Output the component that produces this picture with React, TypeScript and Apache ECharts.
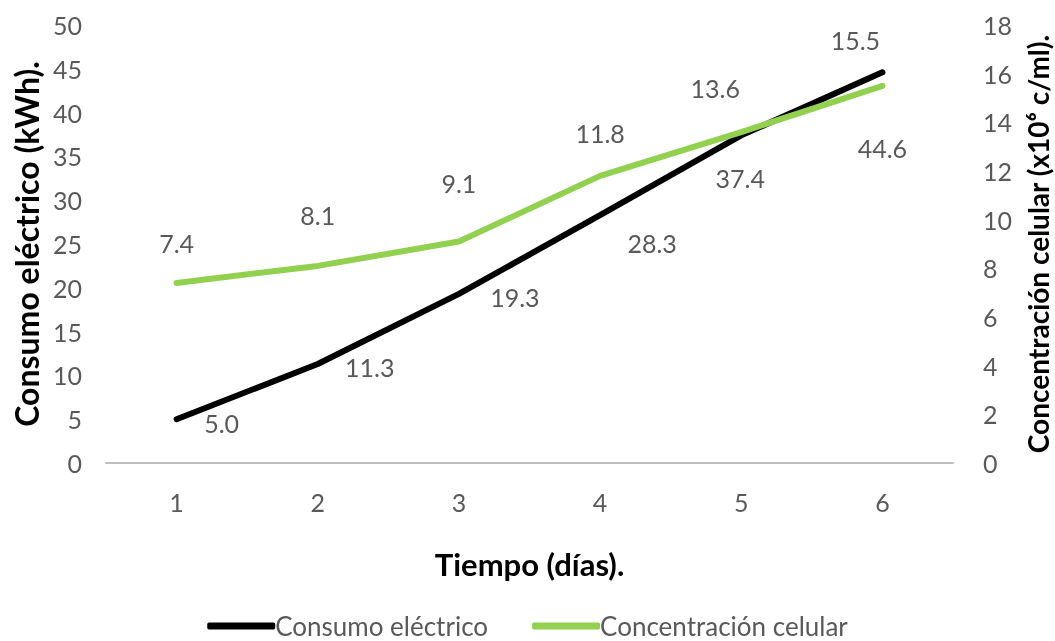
import React, { useEffect, useRef } from "react";
import * as echarts from "echarts";

// Days of measurement
const days = ["1", "2", "3", "4", "5", "6"];
// Electricity consumption (kWh)
const consumo = [5.0, 11.3, 19.3, 28.3, 37.4, 44.6];
// Cell concentration (x10^6 c/ml)
const concentracion = [7.4, 8.1, 9.1, 11.8, 13.6, 15.5];

// Manual label placement (pixel offsets from each point)
const consumoLabelOffsets = [[45, 4], [52, 3], [56, 3], [52, 28], [-1, 43], [0, 76]];
const concentracionLabelOffsets = [[0, -40], [0, -51], [0, -59], [0, -43], [-26, -44], [-27, -46]];

const FONT = "Lato, 'Open Sans', sans-serif";
const GREY = "#595959";

export default function App() {
  const ref = useRef<HTMLDivElement>(null);

  useEffect(() => {
    if (!ref.current) return;
    const chart = echarts.init(ref.current, undefined, { renderer: "svg" });

    const labelStyle = { fontFamily: FONT, fontSize: 25, color: GREY };
    const titleStyle = { fontFamily: FONT, fontWeight: "bold", color: "#000" };

    chart.setOption({
      animation: false,
      textStyle: { fontFamily: FONT },
      grid: {
        left: 106,
        right: 102,
        top: 25,
        bottom: 178,
        containLabel: false,
        outerBoundsMode: "none",
      },
      legend: {
        top: 608,
        left: "center",
        itemGap: 44,
        itemWidth: 68,
        itemHeight: 7,
        icon: "roundRect",
        textStyle: { fontFamily: FONT, fontSize: 26, lineHeight: 26, color: GREY, padding: [0, 0, 0, -5] },
        data: ["Consumo eléctrico", "Concentración celular"],
      },
      xAxis: {
        type: "category",
        data: days,
        boundaryGap: true,
        axisLine: { lineStyle: { color: "#bfbfbf", width: 2 } },
        axisTick: { show: false },
        axisLabel: { margin: 26, fontFamily: FONT, fontSize: 25, color: GREY },
        name: "Tiempo (días).",
        nameLocation: "middle",
        nameGap: 85,
        nameTextStyle: { ...titleStyle, fontSize: 31 },
      },
      yAxis: [
        {
          type: "value",
          min: 0,
          max: 50,
          interval: 5,
          splitLine: { show: false },
          axisLine: { show: false },
          axisTick: { show: false },
          axisLabel: { margin: 24, fontFamily: FONT, fontSize: 25, color: GREY },
          name: "Consumo eléctrico (kWh).",
          nameLocation: "middle",
          nameRotate: 90,
          nameGap: 64,
          nameTextStyle: { ...titleStyle, fontSize: 32 },
        },
        {
          type: "value",
          min: 0,
          max: 18,
          interval: 2,
          position: "right",
          splitLine: { show: false },
          axisLine: { show: false },
          axisTick: { show: false },
          axisLabel: { margin: 30, fontFamily: FONT, fontSize: 25, color: GREY },
          name: "Concentración celular (x10⁶ c/ml).",
          nameLocation: "middle",
          nameRotate: 90,
          nameGap: 70,
          nameTextStyle: { ...titleStyle, fontSize: 28, lineHeight: 30 },
        },
      ],
      series: [
        {
          name: "Consumo eléctrico",
          type: "line",
          yAxisIndex: 0,
          showSymbol: true,
          symbol: "circle",
          symbolSize: 0,
          lineStyle: { color: "#000000", width: 6, cap: "round" },
          itemStyle: { color: "#000000" },
          data: consumo.map((v, i) => ({
            value: v,
            label: {
              show: true,
              position: "inside",
              offset: consumoLabelOffsets[i],
              formatter: (p: any) => Number(p.value).toFixed(1),
              ...labelStyle,
            },
          })),
        },
        {
          name: "Concentración celular",
          type: "line",
          yAxisIndex: 1,
          showSymbol: true,
          symbol: "circle",
          symbolSize: 0,
          lineStyle: { color: "#92d050", width: 6, cap: "round" },
          itemStyle: { color: "#92d050" },
          data: concentracion.map((v, i) => ({
            value: v,
            label: {
              show: true,
              position: "inside",
              offset: concentracionLabelOffsets[i],
              formatter: (p: any) => Number(p.value).toFixed(1),
              ...labelStyle,
            },
          })),
        },
      ],
    });

    return () => chart.dispose();
  }, []);

  return (
    <div
      ref={ref}
      style={{ position: "fixed", left: 0, top: 0, width: 1055, height: 641 }}
    />
  );
}
